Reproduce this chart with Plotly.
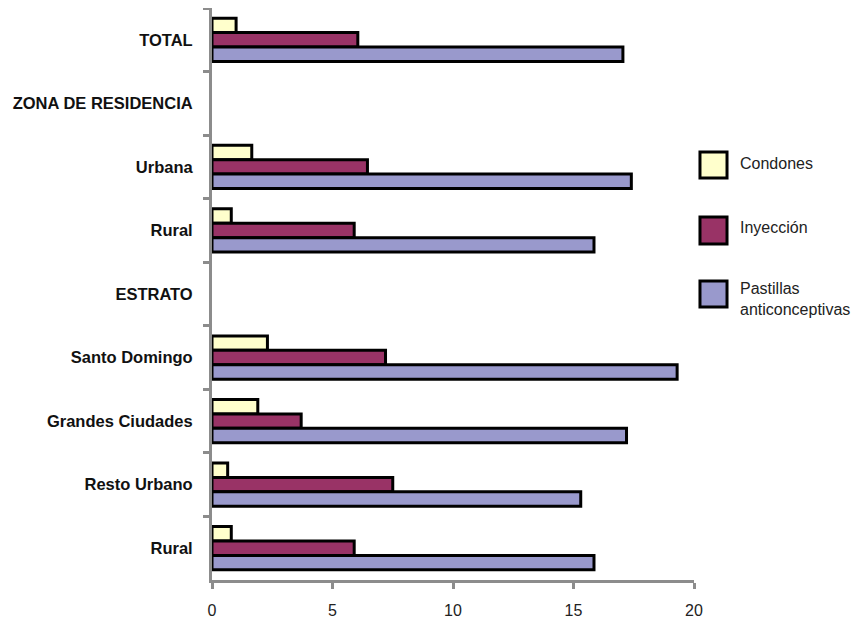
import plotly.graph_objects as go

categories = ["TOTAL", "ZONA DE RESIDENCIA", "Urbana", "Rural", "ESTRATO",
              "Santo Domingo", "Grandes Ciudades", "Resto Urbano", "Rural\u200b"]
condones = [1.0, None, 1.65, 0.8, None, 2.3, 1.9, 0.65, 0.8]
inyeccion = [6.05, None, 6.45, 5.9, None, 7.2, 3.7, 7.5, 5.9]
pastillas = [17.05, None, 17.4, 15.85, None, 19.3, 17.2, 15.3, 15.85]
series_names = ["Condones", "Inyección", "Pastillas<br>anticonceptivas"]
series_colors = ["#FFFFCC", "#993366", "#9999CC"]
x_ticks = [0, 5, 10, 15, 20]

fig = go.Figure()
for i, (name, vals, col) in enumerate(zip(series_names, [condones, inyeccion, pastillas], series_colors)):
    fig.add_trace(go.Bar(
        y=categories, x=vals, orientation="h", name=name,
        marker=dict(color=col, line=dict(color="black", width=3)),
        showlegend=False,
    ))

# legend: large key boxes with labels
key_boxes = [(0.7483, 0.7028), (0.6346, 0.5874), (0.5227, 0.4773)]
label_y = [0.7273, 0.6171, 0.4913]
for name, col, (y1, y0), ly in zip(series_names, series_colors, key_boxes, label_y):
    fig.add_shape(type="rect", xref="paper", yref="paper",
                  x0=1.0124, x1=1.0685, y0=y0, y1=y1,
                  fillcolor=col, line=dict(color="black", width=3), layer="above")
    fig.add_annotation(xref="paper", yref="paper", x=1.0913, y=ly,
                       xanchor="left", yanchor="middle", align="left",
                       text=name, showarrow=False,
                       font=dict(size=16, color="#222"))

fig.update_layout(
    width=854, height=618,
    margin=dict(l=204, r=168, t=0, b=46),
    plot_bgcolor="white", paper_bgcolor="white",
    barmode="group", bargap=0.32, bargroupgap=0,
    font=dict(family="Liberation Sans, Arial, sans-serif", color="#222"),
    showlegend=False,
)
fig.update_xaxes(range=[0, 20], tickvals=x_ticks, showgrid=False, zeroline=False,
                 showline=True, linecolor="#8c8c8c", linewidth=3,
                 ticks="outside", ticklen=6, tickwidth=3, tickcolor="#8c8c8c",
                 ticklabelstandoff=8,
                 tickfont=dict(size=16, color="#222"))
fig.update_yaxes(type="category", categoryorder="array", categoryarray=categories,
                 autorange="reversed", showgrid=False,
                 showline=True, linecolor="#8c8c8c", linewidth=3,
                 ticks="outside", ticklen=6, tickwidth=3, tickcolor="#8c8c8c",
                 tickson="boundaries", ticklabelstandoff=13,
                 tickfont=dict(size=16.5, color="#111", family="Liberation Sans, Arial, sans-serif", weight="bold"))

fig.write_html("out.html")
